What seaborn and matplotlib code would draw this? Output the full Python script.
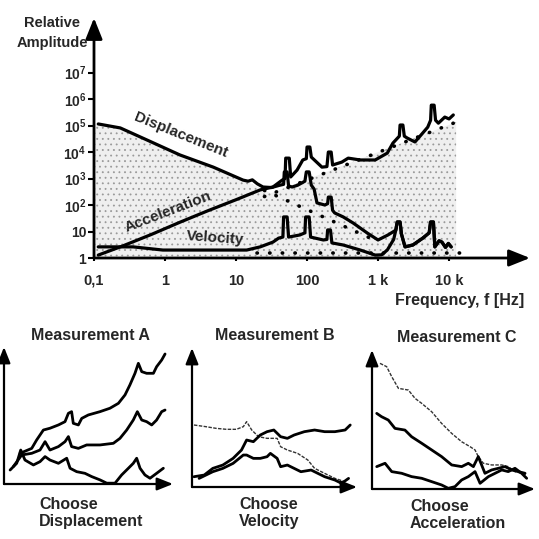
import numpy as np
import pandas as pd
import matplotlib
matplotlib.use("Agg")
import matplotlib.pyplot as plt
import seaborn as sns

# ---------------- main chart data (log10 frequency [Hz], log10 relative amplitude) ----------------
disp_lf = [-0.94, -0.63, -0.25, 0.21, 0.68, 1.10, 1.17, 1.23, 1.30, 1.38, 1.50, 1.62, 1.67, 1.68, 1.72,
           1.74, 1.79, 1.87, 1.97, 1.99, 2.03, 2.06, 2.10, 2.14, 2.25, 2.29, 2.30, 2.34, 2.36, 2.39, 2.51,
           2.65, 2.85, 3.00, 3.14, 3.25, 3.27, 3.31, 3.33, 3.38, 3.49, 3.63, 3.72, 3.74, 3.78, 3.80, 3.86,
           3.90, 3.95, 3.99, 4.03]
disp_la = [5.06, 4.91, 4.45, 3.89, 3.43, 2.94, 2.90, 2.95, 2.80, 2.68, 2.66, 2.75, 2.78, 3.25, 3.25,
           2.72, 2.68, 2.75, 2.90, 3.25, 3.25, 2.75, 2.60, 2.08, 2.00, 2.05, 2.30, 2.30, 1.80, 1.70, 1.55,
           1.32, 0.94, 0.68, 0.87, 1.05, 1.36, 1.36, 0.90, 0.42, 0.49, 0.75, 0.95, 1.36, 1.36, 0.42, 0.65,
           0.60, 0.40, 0.55, 0.42]

acc_lf = [-0.94, -0.60, -0.20, 0.21, 0.60, 1.00, 1.34, 1.52, 1.65, 1.69, 1.70, 1.75, 1.77, 1.86, 1.94,
          1.99, 2.00, 2.04, 2.06, 2.21, 2.28, 2.30, 2.34, 2.36, 2.49, 2.58, 2.75, 2.96, 3.13, 3.21, 3.30,
          3.31, 3.35, 3.37, 3.41, 3.52, 3.63, 3.70, 3.74, 3.75, 3.79, 3.81, 3.85, 3.94, 4.00, 4.06]
acc_la = [0.11, 0.45, 0.88, 1.35, 1.78, 2.20, 2.57, 2.68, 2.94, 3.00, 3.77, 3.77, 3.06, 3.32, 3.70,
          3.75, 4.19, 4.19, 3.81, 3.43, 3.45, 4.00, 4.00, 3.51, 3.62, 3.77, 3.70, 3.70, 3.96, 4.34, 4.60,
          5.02, 5.02, 4.60, 4.53, 4.38, 4.72, 4.94, 5.20, 5.77, 5.77, 5.20, 5.09, 5.32, 5.25, 5.40]

vel_lf = [-0.94, -0.45, -0.03, 1.15, 1.34, 1.52, 1.60, 1.66, 1.67, 1.72, 1.74, 1.90, 1.97, 1.98, 2.03,
          2.05, 2.23, 2.28, 2.29, 2.33, 2.35, 2.51, 2.75, 2.96, 3.05, 3.13, 3.22, 3.25, 3.27, 3.31, 3.33,
          3.38, 3.49, 3.63, 3.72, 3.74, 3.78, 3.80, 3.86, 3.90, 3.95, 3.99, 4.03]
vel_la = [0.42, 0.42, 0.30, 0.30, 0.42, 0.60, 0.75, 0.79, 1.55, 1.55, 0.79, 0.87, 0.95, 1.55, 1.55,
          0.79, 0.68, 0.70, 1.06, 1.06, 0.57, 0.49, 0.30, 0.11, 0.12, 0.30, 0.70, 1.05, 1.36, 1.36, 0.90,
          0.42, 0.49, 0.75, 0.95, 1.36, 1.36, 0.42, 0.65, 0.60, 0.40, 0.55, 0.42]

disp_trend_lf = [1.40, 3.00]
disp_trend_la = [2.55, 0.62]
acc_trend_lf = [1.40, 4.10]
acc_trend_la = [2.32, 5.13]
vel_trend_lf = [1.30, 4.15]
vel_trend_la = [0.20, 0.20]

shade_lf = [-1.00, -0.63, -0.25, 0.21, 0.68, 1.10, 1.38, 1.49, 4.10]
shade_la = [5.06, 4.91, 4.45, 3.89, 3.43, 2.94, 2.60, 2.44, 5.13]
shade_floor = 0.05

freq_ticks = [0.1, 1, 10, 100, 1000, 10000]
freq_labels = ["0,1", "1", "10", "100", "1 k", "10 k"]
amp_ticks = [1, 10, 1e2, 1e3, 1e4, 1e5, 1e6, 1e7]
amp_labels = ["1", "10", r"$\mathregular{10^2}$", r"$\mathregular{10^3}$", r"$\mathregular{10^4}$",
              r"$\mathregular{10^5}$", r"$\mathregular{10^6}$", r"$\mathregular{10^7}$"]

# ---------------- small panels (relative units 0..100) ----------------
A_top_x = [9.5, 16.4, 19.3, 23.3, 27.2, 32.2, 36.1, 38.1, 40.0, 41.0, 44.0, 46.0, 49.9, 56.8, 62.7, 67.7,
           71.6, 74.5, 77.5, 79.5, 81.5, 84.4, 88.4, 90.3, 93.3, 95.3]
A_top_y = [22.4, 26.0, 32.1, 39.4, 40.7, 43.1, 45.5, 51.6, 52.8, 44.3, 43.1, 47.9, 50.4, 52.8, 55.3, 58.9,
           65.0, 72.3, 80.8, 88.1, 82.0, 80.8, 80.8, 85.6, 90.5, 94.9]
A_mid_x = [5.5, 10.5, 16.4, 21.3, 24.3, 27.2, 32.2, 36.1, 38.1, 40.0, 44.0, 48.9, 56.8, 64.7, 68.6, 72.6,
           76.5, 78.9, 81.5, 84.4, 87.4, 90.3, 93.3, 95.3]
A_mid_y = [12.7, 21.2, 22.4, 24.8, 30.9, 24.8, 27.3, 30.9, 34.6, 27.3, 26.0, 28.5, 28.5, 29.7, 33.3, 39.4,
           46.7, 52.8, 46.7, 45.5, 43.1, 46.7, 52.8, 54.0]
A_bot_x = [3.6, 7.5, 9.9, 12.4, 17.4, 21.3, 24.3, 27.2, 32.2, 37.1, 39.1, 43.0, 47.9, 51.9, 56.8, 60.8,
           65.7, 69.6, 73.6, 76.5, 78.5, 80.5, 83.4, 86.4, 90.3, 94.3]
A_bot_y = [10.2, 15.1, 24.8, 17.5, 13.9, 16.3, 20.0, 17.5, 15.1, 18.8, 11.5, 9.0, 7.8, 5.4, 3.0, 0.6,
           0.6, 6.6, 11.5, 15.1, 18.8, 11.5, 6.6, 4.2, 7.8, 11.5]

B_thin_x = [1.2, 8.4, 14.6, 20.8, 26.9, 31.1, 33.1, 36.2, 40.3, 45.5, 51.6, 53.7, 57.8, 64.0, 70.2, 74.3,
            80.4, 86.6, 92.8]
B_thin_y = [44.6, 43.4, 42.2, 41.5, 41.5, 43.4, 47.0, 41.0, 36.2, 35.0, 35.0, 29.0, 26.6, 24.2, 19.4, 13.4,
            9.8, 6.2, 3.8]
B_hi_x = [1.2, 7.4, 12.6, 18.7, 24.9, 30.0, 33.1, 37.2, 41.4, 45.5, 49.6, 53.7, 57.8, 61.9, 68.1, 74.3,
          80.4, 86.6, 92.8, 95.9]
B_hi_y = [7.4, 8.6, 13.4, 15.8, 20.6, 26.6, 33.8, 32.6, 37.4, 39.8, 41.0, 36.2, 35.0, 37.4, 39.8, 41.0,
          39.8, 39.8, 41.0, 44.6]
B_lo_x = [4.3, 12.6, 18.7, 24.9, 31.1, 33.1, 37.2, 41.4, 45.5, 47.5, 51.6, 53.7, 57.8, 61.9, 66.0, 72.2,
          76.3, 80.4, 86.6, 90.7, 94.9]
B_lo_y = [6.2, 11.0, 13.4, 17.0, 23.0, 23.0, 20.6, 20.6, 21.8, 24.2, 20.6, 14.6, 15.8, 13.4, 11.0, 12.2,
          9.8, 7.4, 5.0, 2.6, 6.2]

C_thin_x = [4.9, 9.0, 12.1, 16.2, 22.3, 26.4, 30.5, 36.6, 42.7, 48.9, 55.0, 60.1, 63.2, 65.2, 68.3, 73.4,
            79.6, 83.6, 87.7, 91.8, 94.9]
C_thin_y = [90.4, 88.0, 80.8, 72.4, 71.2, 65.2, 61.6, 55.6, 47.2, 40.0, 34.0, 30.5, 28.1, 23.3, 18.5, 17.3,
            17.3, 16.1, 12.5, 11.3, 10.1]
C_mid_x = [2.9, 5.9, 10.0, 14.1, 20.2, 24.3, 30.5, 36.6, 42.7, 48.9, 55.0, 59.1, 62.2, 65.2, 69.3, 73.4,
           77.5, 81.6, 85.7, 89.8, 93.9]
C_mid_y = [54.4, 52.0, 49.6, 43.6, 42.4, 37.6, 32.9, 28.1, 23.3, 17.3, 16.1, 18.5, 16.1, 23.3, 11.3, 13.7,
           14.9, 16.1, 13.7, 12.5, 11.3]
C_bot_x = [2.9, 8.0, 12.1, 18.2, 24.3, 30.5, 36.6, 42.7, 46.8, 50.9, 55.0, 59.1, 63.2, 66.3, 71.4, 75.5,
           79.6, 83.6, 87.7, 91.8, 94.9]
C_bot_y = [16.1, 18.5, 12.5, 11.3, 8.9, 7.7, 5.3, 2.9, 0.5, 1.7, 6.5, 8.9, 12.5, 4.1, 8.9, 11.3,
           13.7, 12.5, 14.9, 11.3, 7.7]

panel_titles = ["Measurement A", "Measurement B", "Measurement C"]
panel_choices = ["Choose\nDisplacement", "Choose\nVelocity", "Choose\nAcceleration"]

# ---------------- style ----------------
sns.set_theme(style="white")
plt.rcParams["font.family"] = ["Liberation Sans", "DejaVu Sans"]
plt.rcParams["font.weight"] = "bold"
plt.rcParams["mathtext.default"] = "regular"
plt.rcParams["hatch.color"] = "#9a9a9a"
plt.rcParams["hatch.linewidth"] = 0.6

W = 539.0
fig = plt.figure(figsize=(5.39, 5.39), dpi=100)
fig.patch.set_facecolor("white")


def rect(l, t, r, b):
    return [l / W, 1 - b / W, (r - l) / W, (b - t) / W]


def fpos(x, y):
    return x / W, 1 - y / W


def arrows(ax, lw, ms, hl, hw):
    style = f"-|>,head_length={hl},head_width={hw}"
    for end in [(1, 0), (0, 1)]:
        ax.annotate("", xy=end, xytext=(0, 0), xycoords="axes fraction", textcoords="axes fraction",
                    arrowprops=dict(arrowstyle=style, color="black", lw=lw, shrinkA=0, shrinkB=0,
                                    mutation_scale=ms), annotation_clip=False)


def logline(ax, lf, la, **kw):
    df = pd.DataFrame({"f": np.power(10.0, lf), "a": np.power(10.0, la)})
    sns.lineplot(data=df, x="f", y="a", ax=ax, sort=False, estimator=None, **kw)


# ---------------- main chart ----------------
ax = fig.add_axes(rect(94, 18, 530, 258))
ax.set_facecolor("none")
ax.set_xscale("log")
ax.set_yscale("log")
ax.set_xlim(10 ** -1.0, 10 ** 5.14)
ax.set_ylim(1, 10 ** 9.06)
for s in ax.spines.values():
    s.set_visible(False)

ax.fill_between(np.power(10.0, shade_lf), 10 ** shade_floor, np.power(10.0, shade_la),
                facecolor="#efefef", edgecolor="#9a9a9a", hatch="...", linewidth=0, zorder=1)

for lf, la in [(disp_trend_lf, disp_trend_la), (acc_trend_lf, acc_trend_la), (vel_trend_lf, vel_trend_la)]:
    logline(ax, lf, la, color="black", linewidth=2.6, linestyle=(0, (0.1, 3.4)),
            dash_capstyle="round", zorder=2)

for lf, la in [(disp_lf, disp_la), (acc_lf, acc_la), (vel_lf, vel_la)]:
    logline(ax, lf, la, color="black", linewidth=2.3, zorder=3)

arrows(ax, 2.0, 16, 0.8, 0.32)
ax.minorticks_off()
ax.set_xticks(freq_ticks, freq_labels)
ax.set_yticks(amp_ticks, amp_labels)
ax.tick_params(axis="y", direction="out", length=4, width=1.5, pad=1.5, labelsize=10, color="black",
               left=True)
ax.tick_params(axis="x", direction="out", length=2.5, width=1.5, pad=9, labelsize=10.5, color="black",
               bottom=True)
for lab in ax.get_xticklabels() + ax.get_yticklabels():
    lab.set_fontweight("bold")
ax.set_xlabel("")
ax.set_ylabel("")

fig.text(*fpos(52, 23), "Relative", ha="center", va="center", fontsize=10.5, fontweight="bold")
fig.text(*fpos(52, 43), "Amplitude", ha="center", va="center", fontsize=10.5, fontweight="bold")
fig.text(*fpos(395, 300), "Frequency, f [Hz]", ha="left", va="center", fontsize=11.5, fontweight="bold")
fig.text(*fpos(181, 135), "Displacement", ha="center", va="center", rotation=-22, fontsize=11,
         fontweight="bold")
fig.text(*fpos(168, 212), "Acceleration", ha="center", va="center", rotation=21, fontsize=11,
         fontweight="bold")
fig.text(*fpos(215, 238), "Velocity", ha="center", va="center", rotation=-4, fontsize=11,
         fontweight="bold")

# ---------------- small panels ----------------
panel_rects = [rect(4, 347, 173, 484), rect(192, 348, 357, 487), rect(372, 350, 535, 489)]
panel_curves = [
    [(A_top_x, A_top_y, "solid"), (A_mid_x, A_mid_y, "solid"), (A_bot_x, A_bot_y, "solid")],
    [(B_thin_x, B_thin_y, "thin"), (B_hi_x, B_hi_y, "solid"), (B_lo_x, B_lo_y, "solid")],
    [(C_thin_x, C_thin_y, "thin"), (C_mid_x, C_mid_y, "solid"), (C_bot_x, C_bot_y, "solid")],
]
title_pos = [(90, 335), (275, 335), (457, 337)]
choose_pos = [(39, 497), (239, 497), (410, 499)]

for r, curves, title, tp, choice, cp in zip(panel_rects, panel_curves, panel_titles, title_pos,
                                             panel_choices, choose_pos):
    pax = fig.add_axes(r)
    pax.set_facecolor("none")
    pax.set_xlim(0, 100)
    pax.set_ylim(0, 100)
    for s in pax.spines.values():
        s.set_visible(False)
    pax.set_xticks([])
    pax.set_yticks([])
    for xs, ys, kind in curves:
        df = pd.DataFrame({"x": xs, "y": ys})
        if kind == "thin":
            sns.lineplot(data=df, x="x", y="y", ax=pax, sort=False, estimator=None, color="#333333",
                         linewidth=1.0, linestyle=(0, (2.5, 1.0)))
        else:
            sns.lineplot(data=df, x="x", y="y", ax=pax, sort=False, estimator=None, color="black",
                         linewidth=2.0)
    pax.set_xlabel("")
    pax.set_ylabel("")
    arrows(pax, 1.6, 12, 0.8, 0.32)
    fig.text(*fpos(*tp), title, ha="center", va="center", fontsize=11.5, fontweight="bold")
    fig.text(*fpos(*cp), choice, ha="left", va="top", fontsize=11.5, fontweight="bold",
             linespacing=1.15)

fig.savefig("out.png", dpi=100, facecolor="white")
